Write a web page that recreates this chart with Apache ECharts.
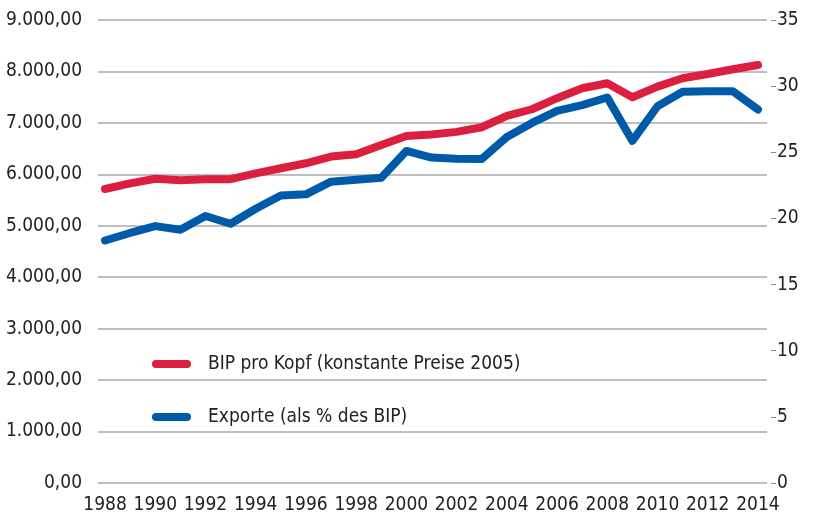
<!DOCTYPE html>
<html>
<head>
<meta charset="utf-8">
<script src="https://cdn.jsdelivr.net/npm/echarts@6/dist/echarts.min.js"></script>
<style>
html,body{margin:0;padding:0;background:#fff;}
#chart{width:814px;height:518px;}
</style>
</head>
<body>
<div id="chart"></div>
<script>
var years = [1988,1989,1990,1991,1992,1993,1994,1995,1996,1997,1998,1999,2000,2001,2002,2003,2004,2005,2006,2007,2008,2009,2010,2011,2012,2013,2014];
var bipProKopf = [5715,5825,5915,5885,5905,5905,6020,6118,6215,6345,6390,6570,6745,6775,6825,6915,7135,7265,7480,7673,7770,7498,7705,7867,7950,8042,8126];
var exporte = [18.33,18.9,19.42,19.14,20.18,19.6,20.73,21.74,21.82,22.78,22.93,23.08,25.1,24.6,24.52,24.5,26.16,27.22,28.13,28.56,29.14,25.86,28.48,29.57,29.62,29.62,28.23];
var xTickLabels = [1988,1990,1992,1994,1996,1998,2000,2002,2004,2006,2008,2010,2012,2014];
var seriesNames = ['BIP pro Kopf (konstante Preise 2005)','Exporte (als % des BIP)'];

var FONT = '"Liberation Sans Narrow","DejaVu Sans Condensed","Open Sans",sans-serif';
var RED = '#dc1f3e', BLUE = '#005aaa';

function deFmt(v){
  var s = Math.round(v).toString();
  s = s.replace(/\B(?=(\d{3})+(?!\d))/g, '.');
  return s + ',00';
}

var chart = echarts.init(document.getElementById('chart'), null, {renderer:'canvas'});
var pill = 'path://M4,0 L36,0 A4,4 0 0 1 36,8 L4,8 A4,4 0 0 1 4,0 Z';
chart.setOption({
  animation:false,
  backgroundColor:'#fff',
  grid:{left:98,right:47,top:20,bottom:35,containLabel:false},
  legend:{
    orient:'vertical', left:147, top:348, itemGap:31,
    itemWidth:39, itemHeight:8,
    textStyle:{fontFamily:FONT,fontSize:19,color:'#222',lineHeight:22,padding:[0,0,0,12]},
    data:[{name:seriesNames[0],icon:pill},{name:seriesNames[1],icon:pill}]
  },
  xAxis:{
    type:'value', min:1987.72, max:2014.36,
    axisLine:{show:false}, axisTick:{show:false}, splitLine:{show:false},
    axisLabel:{customValues:xTickLabels, fontFamily:FONT, fontSize:19, color:'#222', margin:13,
      formatter:function(v){return String(v);} }
  },
  yAxis:[{
    type:'value', min:0, max:9000, interval:1000, position:'left',
    axisLine:{show:false}, axisTick:{show:false},
    splitLine:{show:true,lineStyle:{color:'#aaaaaa',width:1.5}},
    axisLabel:{fontFamily:FONT,fontSize:19,color:'#222',margin:16,formatter:deFmt}
  },{
    type:'value', min:0, max:35, interval:5, position:'right', offset:4,
    axisLine:{show:false},
    axisTick:{show:true,length:5,lineStyle:{color:'#888',width:1}},
    splitLine:{show:false},
    axisLabel:{fontFamily:FONT,fontSize:19,color:'#222',margin:6}
  }],
  series:[{
    name:seriesNames[0], type:'line', yAxisIndex:0, showSymbol:false, symbol:'none',
    color:RED,
    lineStyle:{color:RED,width:8,cap:'round',join:'round'},
    data:years.map(function(y,i){return [y,bipProKopf[i]];})
  },{
    name:seriesNames[1], type:'line', yAxisIndex:1, showSymbol:false, symbol:'none',
    color:BLUE,
    lineStyle:{color:BLUE,width:8,cap:'round',join:'round'},
    data:years.map(function(y,i){return [y,exporte[i]];})
  }]
});
</script>
</body>
</html>
